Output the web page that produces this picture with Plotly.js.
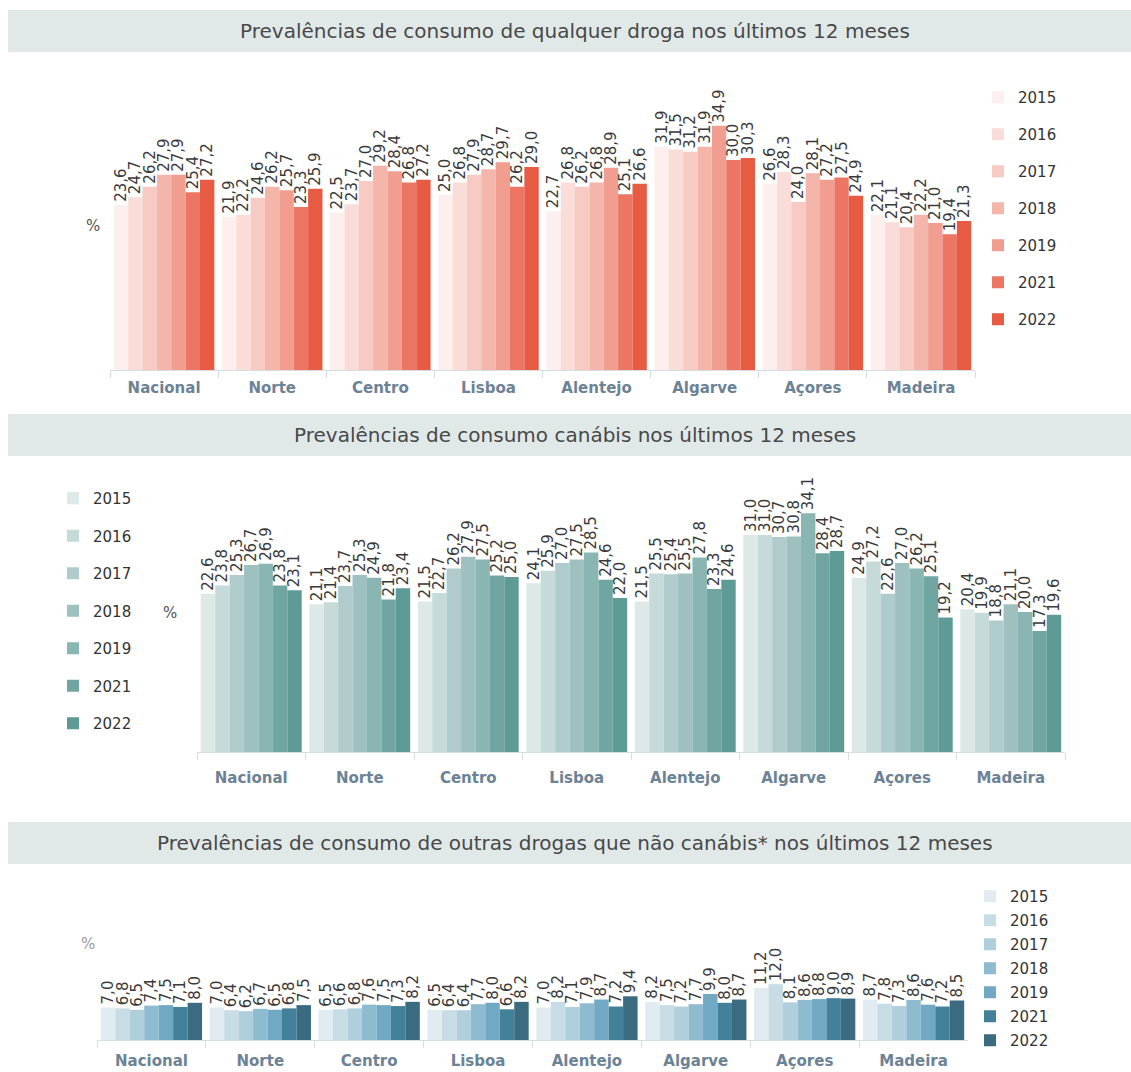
<!DOCTYPE html>
<html>
<head>
<meta charset="utf-8">
<script src="https://cdn.plot.ly/plotly-3.0.1.min.js"></script>
<style>html,body{margin:0;padding:0;background:#fff;}#chart{width:1131px;height:1072px;}</style>
</head>
<body>
<div id="chart"></div>
<script>
const categories = ['Nacional','Norte','Centro','Lisboa','Alentejo','Algarve','Açores','Madeira'];
const years = ['2015','2016','2017','2018','2019','2021','2022'];

// Panel 1: qualquer droga
const any2015 = [23.6, 21.9, 22.5, 25.0, 22.7, 31.9, 26.6, 22.1];
const any2016 = [24.7, 22.2, 23.7, 26.8, 26.8, 31.5, 28.3, 21.1];
const any2017 = [26.2, 24.6, 27.0, 27.9, 26.2, 31.2, 24.0, 20.4];
const any2018 = [27.9, 26.2, 29.2, 28.7, 26.8, 31.9, 28.1, 22.2];
const any2019 = [27.9, 25.7, 28.4, 29.7, 28.9, 34.9, 27.2, 21.0];
const any2021 = [25.4, 23.3, 26.8, 26.2, 25.1, 30.0, 27.5, 19.4];
const any2022 = [27.2, 25.9, 27.2, 29.0, 26.6, 30.3, 24.9, 21.3];

// Panel 2: canábis
const can2015 = [22.6, 21.1, 21.5, 24.1, 21.5, 31.0, 24.9, 20.4];
const can2016 = [23.8, 21.4, 22.7, 25.9, 25.5, 31.0, 27.2, 19.9];
const can2017 = [25.3, 23.7, 26.2, 27.0, 25.4, 30.7, 22.6, 18.8];
const can2018 = [26.7, 25.3, 27.9, 27.5, 25.5, 30.8, 27.0, 21.1];
const can2019 = [26.9, 24.9, 27.5, 28.5, 27.8, 34.1, 26.2, 20.0];
const can2021 = [23.8, 21.8, 25.2, 24.6, 23.3, 28.4, 25.1, 17.3];
const can2022 = [23.1, 23.4, 25.0, 22.0, 24.6, 28.7, 19.2, 19.6];

// Panel 3: outras drogas que não canábis
const oth2015 = [7.0, 7.0, 6.5, 6.5, 7.0, 8.2, 11.2, 8.7];
const oth2016 = [6.8, 6.4, 6.6, 6.4, 8.2, 7.5, 12.0, 7.8];
const oth2017 = [6.5, 6.2, 6.8, 6.4, 7.1, 7.2, 8.1, 7.3];
const oth2018 = [7.4, 6.7, 7.6, 7.7, 7.9, 7.7, 8.6, 8.6];
const oth2019 = [7.5, 6.5, 7.5, 8.0, 8.7, 9.9, 8.8, 7.6];
const oth2021 = [7.1, 6.8, 7.3, 6.6, 7.2, 8.0, 9.0, 7.2];
const oth2022 = [8.0, 7.5, 8.2, 8.2, 9.4, 8.7, 8.9, 8.5];

const reds = ['#fcefee','#fadcd8','#f7cac3','#f4b5ab','#f19d8f','#ec7564','#e85b43'];
const teals = ['#dde9e9','#c6dada','#afcbcb','#9ec1c0','#89b5b3','#70a5a1','#5f9b96'];
const blues = ['#e0ecf1','#c8dce6','#b0cfdd','#8fbbd0','#71a9c4','#43809a','#3a6b81'];

const FONT = 'DejaVu Sans';

function makeTraces(series, colors, xa, ya, lg) {
  return years.map((yr, i) => ({
    type: 'bar', name: yr, x: categories, y: series[i],
    xaxis: xa, yaxis: ya, legend: lg, legendgroup: lg + yr,
    marker: {color: colors[i], line: {width: 0}},
    text: series[i].map(v => v.toFixed(1).replace('.', ',')),
    textposition: 'outside', textangle: -90, constraintext: 'none', cliponaxis: false,
    textfont: {family: FONT, size: 15, color: '#3a3a3a'},
    hoverinfo: 'skip'
  }));
}

const data = [].concat(
  makeTraces([any2015, any2016, any2017, any2018, any2019, any2021, any2022], reds, 'x', 'y', 'legend'),
  makeTraces([can2015, can2016, can2017, can2018, can2019, can2021, can2022], teals, 'x2', 'y2', 'legend2'),
  makeTraces([oth2015, oth2016, oth2017, oth2018, oth2019, oth2021, oth2022], blues, 'x3', 'y3', 'legend3')
);

const W = 1131, H = 1072;
const px = v => v / W;
const py = v => 1 - v / H;

function xax(d0, d1, anchor, standoff) {
  return {
    domain: [px(d0), px(d1)], anchor: anchor, type: 'category',
    showline: true, linecolor: '#d6dee3', linewidth: 1,
    ticks: 'outside', tickson: 'boundaries', ticklen: 7, tickcolor: '#d6dee3',
    ticklabelstandoff: standoff,
    tickfont: {family: FONT, size: 15, color: '#6c8295', weight: 'bold'},
    showgrid: false, zeroline: false, fixedrange: true
  };
}
function yax(top, bottom, maxv, anchor) {
  return {
    domain: [py(bottom), py(top)], anchor: anchor, range: [0, maxv],
    showticklabels: false, showgrid: false, zeroline: false, showline: false, ticks: '', fixedrange: true
  };
}
function legendCfg(left, firstY, gap) {
  return {
    x: px(left), y: py(firstY - 12), xanchor: 'left', yanchor: 'top',
    font: {family: FONT, size: 15, color: '#333'}, traceorder: 'grouped', tracegroupgap: gap,
    bgcolor: 'rgba(0,0,0,0)', borderwidth: 0, itemwidth: 30
  };
}
function titleBar(y0, y1) {
  return {type: 'rect', xref: 'paper', yref: 'paper', x0: px(8), x1: px(1131), y0: py(y1), y1: py(y0),
          fillcolor: '#e1e8e8', line: {width: 0}, layer: 'below'};
}
function titleText(txt, y) {
  return {xref: 'paper', yref: 'paper', x: px(575), y: py(y), xanchor: 'center', yanchor: 'middle',
          text: txt, showarrow: false, font: {family: FONT, size: 20, color: '#484848'}};
}
function pct(x, y, c) {
  return {xref: 'paper', yref: 'paper', x: px(x), y: py(y), xanchor: 'center', yanchor: 'middle',
          text: '%', showarrow: false, font: {family: FONT, size: 15, color: c}};
}

const layout = {
  width: W, height: H, margin: {l: 0, r: 0, t: 0, b: 0},
  paper_bgcolor: '#ffffff', plot_bgcolor: 'rgba(0,0,0,0)',
  barmode: 'group', bargap: 0.07, bargroupgap: 0,
  font: {family: FONT},
  showlegend: true,
  xaxis: xax(110, 975, 'y', 4),
  yaxis: yax(60, 370, 44.3, 'x'),
  xaxis2: xax(197, 1065, 'y2', 12),
  yaxis2: yax(465, 752, 41, 'x2'),
  xaxis3: xax(97, 968, 'y3', 7),
  yaxis3: yax(880, 1040, 34.4, 'x3'),
  legend: legendCfg(978, 93, 14.5),
  legend2: legendCfg(53, 494, 15),
  legend3: legendCfg(970, 892, 1.5),
  shapes: [titleBar(10, 52), titleBar(414, 456), titleBar(822, 864)],
  annotations: [
    titleText('Prevalências de consumo de qualquer droga nos últimos 12 meses', 31),
    titleText('Prevalências de consumo canábis nos últimos 12 meses', 435),
    titleText('Prevalências de consumo de outras drogas que não canábis* nos últimos 12 meses', 843),
    pct(93, 226, '#555'), pct(170, 613, '#555'), pct(88, 944, '#9a9a9a')
  ]
};

Plotly.newPlot('chart', data, layout, {displayModeBar: false, staticPlot: true});
</script>
</body>
</html>
